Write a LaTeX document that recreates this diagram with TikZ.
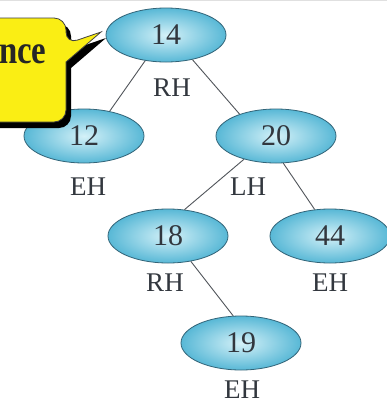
\documentclass[tikz,border=0pt]{standalone}
\usepackage{fontspec}
\setmainfont{Liberation Serif}
\usetikzlibrary{shapes.geometric}
\definecolor{nodeout}{RGB}{88,184,214}
\definecolor{nodein}{RGB}{212,241,248}
\definecolor{nodeedge}{RGB}{50,100,120}
\definecolor{ink}{RGB}{50,55,62}
\definecolor{calloutyellow}{RGB}{250,238,20}
\begin{document}
\begin{tikzpicture}[x=1pt,y=-1pt,
  avl/.style={ellipse, draw=nodeedge, line width=0.8pt, inner color=nodein, outer color=nodeout,
    minimum width=120pt, minimum height=54pt, inner sep=0pt,
    font=\fontsize{30}{30}\selectfont, text=ink},
  bal/.style={font=\fontsize{27}{27}\selectfont, text=ink, inner sep=0pt},
  link/.style={draw=ink!85, line width=0.9pt}]
\useasboundingbox (0,0) rectangle (387,405);
\fill[white] (0,0) rectangle (387,405);
\draw[black!12, line width=1pt] (0,0.5) -- (387,0.5);

% tree nodes
\node[avl] (n14) at (166,35) {14};
\node[avl] (n12) at (84,136) {12};
\node[avl] (n20) at (276,136) {20};
\node[avl] (n18) at (168,236) {18};
\node[avl] (n44) at (330,236) {44};
\node[avl] (n19) at (241,343) {19};

% balance factors
\node[bal] (b14) at (172,88) {RH};
\node[bal] (b12) at (88,187) {EH};
\node[bal] (b20) at (248,187) {LH};
\node[bal] (b18) at (165,283) {RH};
\node[bal] (b44) at (330,283) {EH};
\node[bal] (b19) at (242,390) {EH};

% edges
\draw[link] (n14.-129) -- (n12.44);
\draw[link] (n14.-43) -- (n20.149);
\draw[link] (n20.-144) -- (n18.58);
\draw[link] (n20.-75) -- (n44.120);
\draw[link] (n18.-48) -- (n19.106);

% callout with shadow
\fill[black, shift={(5,6)}, rounded corners=12pt]
  (-30,18) -- (66,18) -- (66,44) [sharp corners] -- (101,32) -- (66,62) [rounded corners=12pt] -- (66,122) -- (-30,122) -- cycle;
\filldraw[fill=calloutyellow, draw=black!75, line width=0.8pt, rounded corners=12pt]
  (-30,18) -- (66,18) -- (66,44) [sharp corners] -- (101,32) -- (66,62) [rounded corners=12pt] -- (66,122) -- (-30,122) -- cycle;
\node[anchor=base west, inner sep=0pt, xscale=0.82, font=\bfseries\fontsize{40}{40}\selectfont, text=black!85] (msg) at (-1,63) {nce};
\end{tikzpicture}
\end{document}
